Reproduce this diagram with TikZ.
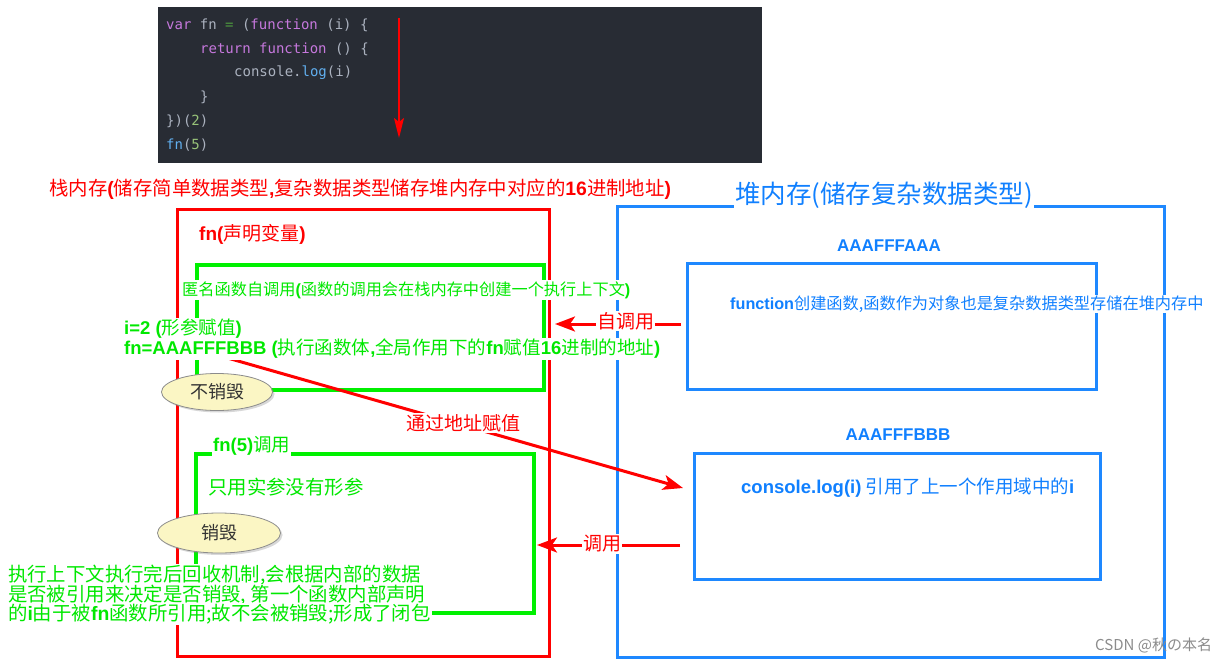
\documentclass[tikz,border=0pt]{standalone}
\usepackage{fontspec}
\usetikzlibrary{arrows.meta,shapes.geometric,shadows}
\newfontfamily\cjk{Noto Sans CJK SC}
\newfontfamily\lat{Liberation Sans}
\newfontfamily\codefont{DejaVu Sans Mono}
\newcommand\latbf[1]{{\lat\bfseries #1}}
\definecolor{redc}{HTML}{FF0000}
\definecolor{greenc}{HTML}{00F000}
\definecolor{greent}{HTML}{00E800}
\definecolor{bluec}{HTML}{1E88FF}
\definecolor{bluet}{HTML}{1080FF}
\definecolor{codebg}{HTML}{282C34}
\definecolor{kw}{HTML}{C678DD}
\definecolor{tx}{HTML}{ABB2BF}
\definecolor{fnc}{HTML}{61AFEF}
\definecolor{num}{HTML}{98C379}
\definecolor{op}{HTML}{4E9A3F}
\definecolor{ellfill}{HTML}{FBF6C4}
\newcommand\ck[2]{{\color{#1}#2}}
\begin{document}
\begin{tikzpicture}[x=1pt,y=-1pt,
 codeline/.style={anchor=west, inner sep=0pt, font=\codefont\fontsize{14}{16}\selectfont, text=tx},
 frame/.style={draw, line width=3pt, anchor=north west, inner sep=0pt},
 halo/.style={fill=white, inner sep=1pt, anchor=west},
 rtxt/.style={halo, text=redc, font=\cjk\fontsize{19}{21}\selectfont},
 gtxt/.style={halo, text=greent, font=\cjk\fontsize{19.4}{20}\selectfont},
 btxt/.style={halo, text=bluet, font=\cjk\fontsize{18.5}{20}\selectfont},
 bubble/.style={ellipse, draw=black!45, line width=0.8pt, fill=ellfill, inner sep=0pt,
   drop shadow={opacity=0.3, shadow xshift=2pt, shadow yshift=-2pt},
   text=black!80, font=\cjk\fontsize{18}{20}\selectfont},
 redarrow/.style={draw=redc, line width=3pt, -{Stealth[length=20pt, width=15pt, inset=5pt]}},
 codearrow/.style={draw=redc, line width=2pt, -{Stealth[length=20pt, width=10pt, inset=4pt]}},
]
\useasboundingbox (0,0) rectangle (1232,661);
\fill[white] (0,0) rectangle (1232,661);

% code box
\node[fill=codebg, anchor=north west, minimum width=604, minimum height=156, inner sep=0pt] (code) at (158,7) {};
\node[codeline] (c1) at (166,25) {\ck{kw}{var}\ \ck{tx}{fn}\ \ck{op}{=}\ \ck{tx}{(}\ck{kw}{function}\ \ck{tx}{(i)}\ \ck{tx}{\{}};
\node[codeline] (c2) at (200,49) {\ck{kw}{return}\ \ck{kw}{function}\ \ck{tx}{()}\ \ck{tx}{\{}};
\node[codeline] (c3) at (234,73) {\ck{tx}{console.}\ck{fnc}{log}\ck{tx}{(i)}};
\node[codeline] (c4) at (200,97) {\}};
\node[codeline] (c5) at (166,121) {\ck{tx}{\})(}\ck{num}{2}\ck{tx}{)}};
\node[codeline] (c6) at (166,145) {\ck{fnc}{fn}\ck{tx}{(}\ck{num}{5}\ck{tx}{)}};
\coordinate (ca1) at (399,18);
\coordinate (ca2) at (399,138);
\draw[codearrow] (ca1) -- (ca2);

% frames
\node[frame, draw=redc, minimum width=372, minimum height=447] (stack) at (176,208) {};
\node[frame, draw=greenc, line width=3.5pt, minimum width=347, minimum height=125] (g1) at (195,263) {};
\node[frame, draw=greenc, line width=3.5pt, minimum width=338, minimum height=159] (g2) at (194,452) {};
\node[frame, draw=bluec, minimum width=547, minimum height=451] (heap) at (616,205) {};
\node[frame, draw=bluec, minimum width=409, minimum height=126] (bA) at (686,262) {};
\node[frame, draw=bluec, minimum width=406, minimum height=126] (bB) at (693,452) {};

% connectors
\coordinate (zs) at (681,324);
\coordinate (ze) at (555,324);
\draw[redarrow] (zs) -- (ze);
\coordinate (ds) at (680,545);
\coordinate (de) at (537,545);
\draw[redarrow] (ds) -- (de);
\coordinate (ts) at (224,357);
\coordinate (te) at (683,488);
\draw[redarrow] (ts) -- (te);

% labels
\node[rtxt, font=\cjk\fontsize{19.4}{21}\selectfont] (stitle) at (48,189) {栈内存\latbf{(}储存简单数据类型\latbf{,}复杂数据类型储存堆内存中对应的\latbf{16}进制地址\latbf{)}};
\node[rtxt] (fnvar) at (198,234) {\latbf{fn(}声明变量\latbf{)}};
\node[halo, text=greent, font=\cjk\fontsize{16.2}{18}\selectfont] (anon) at (181,290) {匿名函数自调用\latbf{(}函数的调用会在栈内存中创建一个执行上下文\latbf{)}};
\node[gtxt, font=\cjk\fontsize{18.5}{20}\selectfont] (iarg) at (123,329) {\latbf{i=2 (}形参赋值\latbf{)}};
\node[gtxt, font=\cjk\fontsize{18.5}{20}\selectfont] (fnas) at (123,349) {\latbf{fn=AAAFFFBBB (}执行函数体\latbf{,}全局作用下的\latbf{fn}赋值\latbf{16}进制的地址\latbf{)}};
\node[rtxt] (addr) at (405,423) {通过地址赋值};
\node[gtxt, font=\cjk\fontsize{18.5}{20}\selectfont] (fn5) at (212,446) {\latbf{fn(5)}调用};
\node[gtxt] (onlyreal) at (207,487) {只用实参没有形参};
\node[gtxt] (gc1) at (7,575) {执行上下文执行完后回收机制,会根据内部的数据};
\node[gtxt] (gc2) at (7,595) {是否被引用来决定是否销毁, 第一个函数内部声明};
\node[gtxt] (gc3) at (7,614) {的\latbf{i}由于被\latbf{fn}函数所引用;故不会被销毁;形成了闭包};
\node[rtxt] (selfcall) at (596,321) {自调用};
\node[rtxt] (call) at (582,544) {调用};
\node[halo, text=bluet, font=\cjk\fontsize{25.5}{28}\selectfont] (htitle) at (734,195) {堆内存(储存复杂数据类型)};
\node[halo, anchor=center, text=bluet, font=\lat\bfseries\fontsize{17}{19}\selectfont] (aaa) at (889,246) {AAAFFFAAA};
\node[halo, text=bluet, font=\cjk\fontsize{16.2}{18}\selectfont] (ftext) at (729,304) {\latbf{function}创建函数,函数作为对象也是复杂数据类型存储在堆内存中};
\node[halo, anchor=center, text=bluet, font=\lat\bfseries\fontsize{17}{19}\selectfont] (bbb) at (898,435) {AAAFFFBBB};
\node[btxt] (ctext) at (740,488) {\latbf{console.log(i)} 引用了上一个作用域中的\latbf{i}};
\node[anchor=west, inner sep=0pt, text=black!45, font=\cjk\fontsize{15}{17}\selectfont] (wm) at (1095,645) {CSDN @秋の本名};

% bubbles
\node[bubble, minimum width=111, minimum height=37] (keep) at (217,392) {不销毁};
\node[bubble, minimum width=123, minimum height=40] (destroy) at (219,533) {销毁};
\end{tikzpicture}
\end{document}
